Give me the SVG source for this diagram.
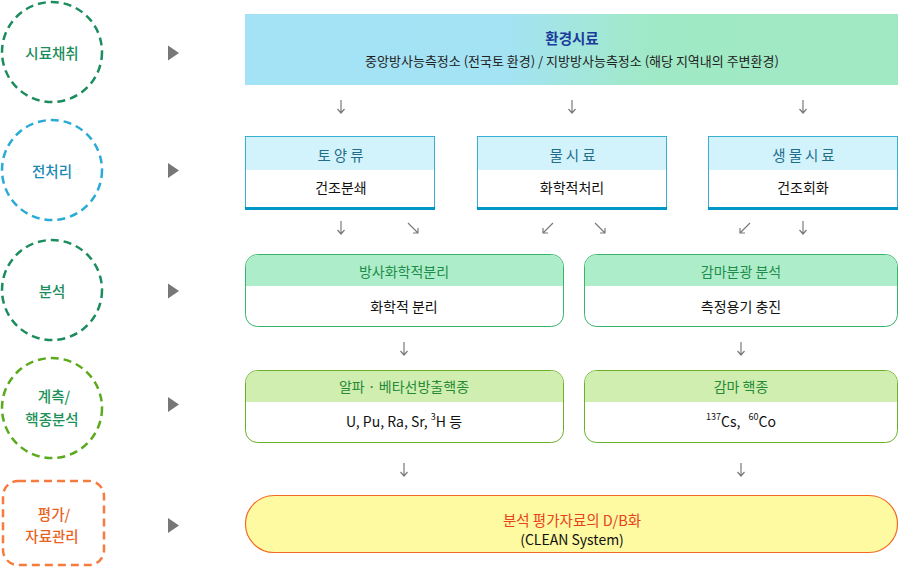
<svg xmlns="http://www.w3.org/2000/svg" width="900" height="567" viewBox="0 0 900 567">
<defs>
<linearGradient id="gBanner" x1="0" y1="0" x2="1" y2="0">
<stop offset="0" stop-color="#a4e3f6"/>
<stop offset="0.4" stop-color="#a4e3f4"/>
<stop offset="0.62" stop-color="#a0e9c6"/>
<stop offset="1" stop-color="#a0e9c2"/>
</linearGradient>
<style>
text{font-family:"Noto Sans CJK KR","Noto Sans",sans-serif;text-anchor:middle;dominant-baseline:central}
.stage{fill:none;stroke-width:2.5;stroke-dasharray:8 5}
.stxt{font-size:14.5px;font-weight:500}
.tri{fill:#777}
.arr{fill:none;stroke:#7a7a7a;stroke-width:1.2}
.body{font-size:14px;fill:#111}
.h2{font-size:14.5px;fill:#226e89;letter-spacing:3px}
.h3{font-size:14px;fill:#1e8c4a}
.h4{font-size:14px;fill:#268a36}
</style>
</defs>
<rect width="900" height="567" fill="#fff"/>

<g id="stage1"><circle class="stage" cx="52" cy="52" r="50" stroke="#1b8c5c"/><text class="stxt" x="52" y="52" fill="#1b8c5c">시료채취</text><polygon class="tri" points="168,45.5 179,53 168,60.5"/></g>
<g id="stage2"><circle class="stage" cx="52" cy="170" r="50" stroke="#2aaad6"/><text class="stxt" x="52" y="170" fill="#1a88b4">전처리</text><polygon class="tri" points="168,163 179,170.5 168,178"/></g>
<g id="stage3"><circle class="stage" cx="52" cy="290" r="50" stroke="#1b8c5c"/><text class="stxt" x="52" y="290" fill="#1b8c5c">분석</text><polygon class="tri" points="168,283.5 179,291 168,298.5"/></g>
<g id="stage4"><circle class="stage" cx="52" cy="408" r="50" stroke="#5aaa1c"/><text class="stxt" x="54" y="395" fill="#1b9158">계측/</text><text class="stxt" x="52" y="418" fill="#1b9158">핵종분석</text><polygon class="tri" points="168,397 179,404.5 168,412"/></g>
<g id="stage5"><rect class="stage" x="3" y="481" width="101" height="84" rx="15" stroke="#f57c3e"/><text class="stxt" x="54" y="513" fill="#e8641e">평가/</text><text class="stxt" x="52" y="535" fill="#e8641e">자료관리</text><polygon class="tri" points="168,518 179,525.5 168,533"/></g>

<g id="banner"><rect x="245" y="14" width="653" height="71" fill="url(#gBanner)"/>
<text x="572" y="37" font-size="14.5" font-weight="bold" fill="#1b3b9b">환경시료</text>
<text x="572" y="60" font-size="13" fill="#222">중앙방사능측정소 (전국토 환경) / 지방방사능측정소 (해당 지역내의 주변환경)</text></g>

<g id="soil"><rect x="245.5" y="136.5" width="189" height="73" fill="#fff" stroke="#3aaed2" stroke-width="1"/><rect x="246" y="137" width="188" height="33" fill="#d3f3fc"/><rect x="245" y="207" width="190" height="3" fill="#0096c6"/>
<text class="h2" x="342" y="154">토양류</text><text class="body" x="341" y="187">건조분쇄</text></g>
<g id="water"><rect x="477.5" y="136.5" width="189" height="73" fill="#fff" stroke="#3aaed2" stroke-width="1"/><rect x="478" y="137" width="188" height="33" fill="#d3f3fc"/><rect x="477" y="207" width="190" height="3" fill="#0096c6"/>
<text class="h2" x="574" y="154">물시료</text><text class="body" x="572" y="187">화학적처리</text></g>
<g id="bio"><rect x="708.5" y="136.5" width="189" height="73" fill="#fff" stroke="#3aaed2" stroke-width="1"/><rect x="709" y="137" width="188" height="33" fill="#d3f3fc"/><rect x="708" y="207" width="190" height="3" fill="#0096c6"/>
<text class="h2" x="805" y="154">생물시료</text><text class="body" x="803" y="187">건조회화</text></g>

<g id="radiochem"><rect x="245.5" y="254.5" width="318" height="72" rx="12" fill="#fff" stroke="#38b46a"/><path d="M246,286 V266.5 A11.5,11.5 0 0 1 257.5,255 H551.5 A11.5,11.5 0 0 1 563,266.5 V286 Z" fill="#aeedca"/>
<text class="h3" x="404" y="271">방사화학적분리</text><text class="body" x="404" y="306">화학적 분리</text></g>
<g id="gammaspec"><rect x="584.5" y="254.5" width="313" height="72" rx="12" fill="#fff" stroke="#38b46a"/><path d="M585,286 V266.5 A11.5,11.5 0 0 1 596.5,255 H885.5 A11.5,11.5 0 0 1 897,266.5 V286 Z" fill="#aeedca"/>
<text class="h3" x="741" y="271">감마분광 분석</text><text class="body" x="741" y="306">측정용기 충진</text></g>

<g id="alphabeta"><rect x="245.5" y="370.5" width="318" height="72" rx="12" fill="#fff" stroke="#6cb02a"/><path d="M246,402 V382.5 A11.5,11.5 0 0 1 257.5,371 H551.5 A11.5,11.5 0 0 1 563,382.5 V402 Z" fill="#cfeeb0"/>
<text class="h4" x="404" y="386">알파 · 베타선방출핵종</text><text class="body" x="404" y="421">U, Pu, Ra, Sr, <tspan font-size="9" dy="-5">3</tspan><tspan dy="5">H 등</tspan></text></g>
<g id="gammanuc"><rect x="584.5" y="370.5" width="313" height="72" rx="12" fill="#fff" stroke="#6cb02a"/><path d="M585,402 V382.5 A11.5,11.5 0 0 1 596.5,371 H885.5 A11.5,11.5 0 0 1 897,382.5 V402 Z" fill="#cfeeb0"/>
<text class="h4" x="741" y="386">감마 핵종</text><text class="body" x="741" y="421"><tspan font-size="9" dy="-5">137</tspan><tspan dy="5">Cs,</tspan><tspan font-size="9" dx="8" dy="-5">60</tspan><tspan dy="5">Co</tspan></text></g>

<g id="db"><rect x="245.5" y="495.5" width="652" height="57" rx="28.5" fill="#fdfaa2" stroke="#f26a22" stroke-width="1.2"/>
<text x="572" y="519" font-size="14.5" fill="#e8421c">분석 평가자료의 D/B화</text><text x="572" y="539" font-size="14" fill="#111">(CLEAN System)</text></g>

<g id="connectors" class="arr">
<path d="M341,100 V113 M337.5,109 L341,113 L344.5,109"/>
<path d="M572,100 V113 M568.5,109 L572,113 L575.5,109"/>
<path d="M803,100 V113 M799.5,109 L803,113 L806.5,109"/>
<path d="M341,221 V234 M337.5,230 L341,234 L344.5,230"/>
<path d="M408,223 L418,233 M413,233 H418 V228"/>
<path d="M553,223 L543,233 M548,233 H543 V228"/>
<path d="M595,223 L605,233 M600,233 H605 V228"/>
<path d="M750,223 L740,233 M745,233 H740 V228"/>
<path d="M803,221 V234 M799.5,230 L803,234 L806.5,230"/>
<path d="M404,342 V355 M400.5,351 L404,355 L407.5,351"/>
<path d="M741,342 V355 M737.5,351 L741,355 L744.5,351"/>
<path d="M404,463 V476 M400.5,472 L404,476 L407.5,472"/>
<path d="M741,463 V476 M737.5,472 L741,476 L744.5,472"/>
</g>
</svg>
